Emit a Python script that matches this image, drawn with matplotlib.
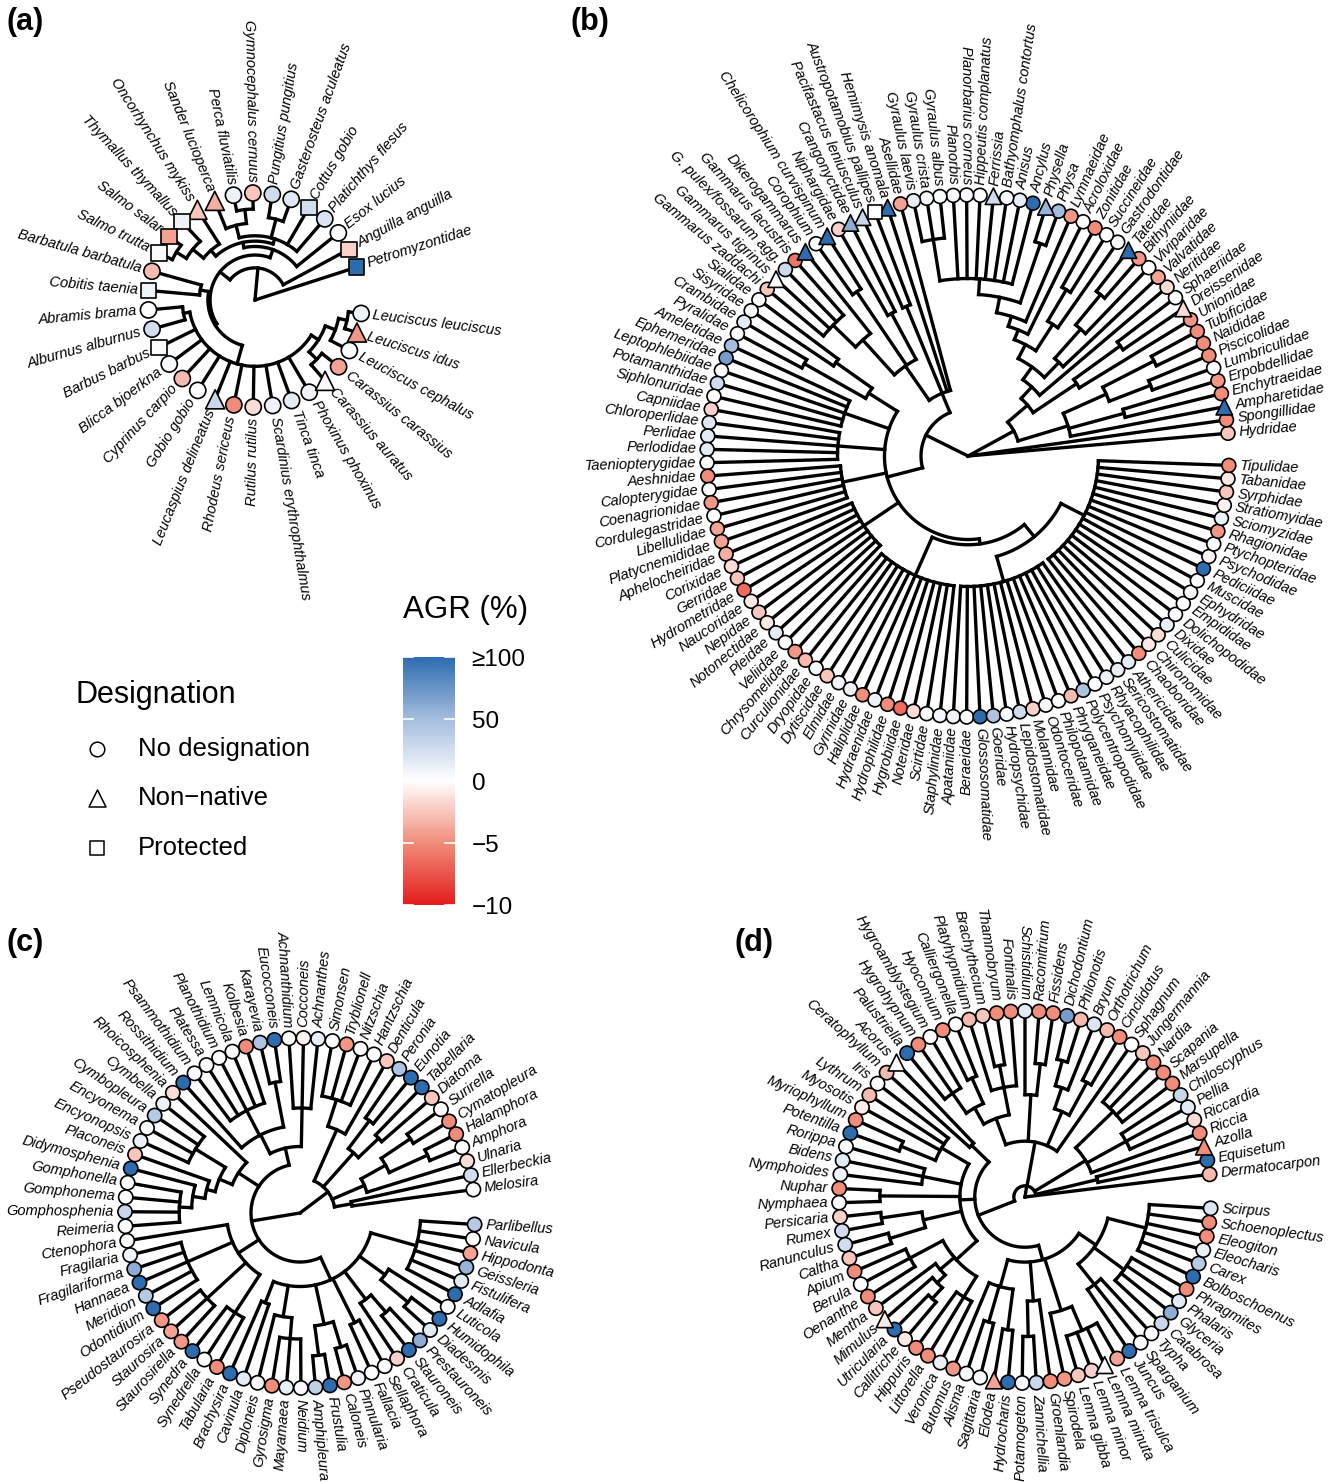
import re
import numpy as np
import matplotlib
matplotlib.use("Agg")
import matplotlib.pyplot as plt
from matplotlib.collections import LineCollection
from matplotlib.colors import LinearSegmentedColormap, TwoSlopeNorm
from matplotlib.cm import ScalarMappable

plt.rcParams['font.family'] = ['Liberation Sans', 'DejaVu Sans']

W, H = 1343, 1482

# ---------------- (a) fish ----------------
tips_a = ["Petromyzontidae", "Anguilla anguilla", "Esox lucius", "Platichthys flesus",
          "Cottus gobio", "Gasterosteus aculeatus", "Pungitius pungitius",
          "Gymnocephalus cernuus", "Perca fluviatilis", "Sander lucioperca",
          "Oncorhynchus mykiss", "Thymallus thymallus", "Salmo salar", "Salmo trutta",
          "Barbatula barbatula", "Cobitis taenia", "Abramis brama", "Alburnus alburnus",
          "Barbus barbus", "Blicca bjoerkna", "Cyprinus carpio", "Gobio gobio",
          "Leucaspius delineatus", "Rhodeus sericeus", "Rutilus rutilus",
          "Scardinius erythrophthalmus", "Tinca tinca", "Phoxinus phoxinus",
          "Carassius auratus", "Carassius carassius", "Leuciscus cephalus",
          "Leuciscus idus", "Leuciscus leuciscus"]
agr_a = [100, -2, 2, 20, 25, 18, 25, -2.5, 10, -3.5,
         -2.5, 10, -4, 3, -3, 8, 0, 25, 2, 5,
         -3, 1, 30, -5, -1.5, 8, 15, 8, 4, -4,
         0, -4.5, 10]
nonnative_a = ["Sander lucioperca", "Oncorhynchus mykiss", "Leucaspius delineatus",
               "Carassius auratus", "Leuciscus idus"]
protected_a = ["Petromyzontidae", "Anguilla anguilla", "Cottus gobio", "Thymallus thymallus",
               "Salmo salar", "Salmo trutta", "Cobitis taenia", "Barbus barbus"]
# leaf = index into tips, number after ")" = node radius (0 centre .. 1 tips)
acanth_a = "(3,4,(5,6)0.78,((7,8)0.85,9)0.72)0.6"
salmo_a = "(10,(11,(12,13)0.86)0.75)0.62"
cyp_a = "((16,17)0.68,18,19,20,21,22,23,24,25,26,27,((28,29)0.8,(30,(31,32)0.88)0.8)0.7)0.62"
tree_a = ("(0,(1,((2,(" + acanth_a + "," + salmo_a + ")0.55)0.5,"
          "((14,15)0.52," + cyp_a + ")0.44)0.42)0.3)0")

# ---------------- (b) macroinvertebrates ----------------
tips_b = ["Hydridae", "Spongillidae", "Ampharetidae", "Enchytraeidae", "Erpobdellidae",
          "Lumbriculidae", "Piscicolidae", "Naididae", "Tubificidae", "Unionidae",
          "Dreissenidae", "Sphaeriidae", "Neritidae", "Valvatidae", "Viviparidae",
          "Bithyniidae", "Tateidae", "Gastrodontidae", "Succineidae", "Zonitidae",
          "Acroloxidae", "Lymnaeidae", "Physa", "Physella", "Ancylus",
          "Anisus", "Bathyomphalus contortus", "Ferrissia", "Hippeutis complanatus", "Planorbarius corneus",
          "Planorbis", "Gyraulus albus", "Gyraulus crista", "Gyraulus laevis", "Asellidae",
          "Hemimysis anomala", "Austropotamobius pallipes", "Pacifastacus leniusculus", "Crangonyctidae", "Niphargidae",
          "Chelicorophium curvispinum", "Corophium", "Dikerogammarus", "Gammarus lacustris", "G. pulex/fossarum agg.",
          "Gammarus tigrinus", "Gammarus zaddachi", "Sialidae", "Sisyridae", "Crambidae",
          "Pyralidae", "Ameletidae", "Ephemeridae", "Leptophlebiidae", "Potamanthidae",
          "Siphlonuridae", "Capniidae", "Chloroperlidae", "Perlidae", "Perlodidae",
          "Taeniopterygidae", "Aeshnidae", "Calopterygidae", "Coenagrionidae", "Cordulegastridae",
          "Libellulidae", "Platycnemididae", "Aphelocheiridae", "Corixidae", "Gerridae",
          "Hydrometridae", "Naucoridae", "Nepidae", "Notonectidae", "Pleidae",
          "Veliidae", "Chrysomelidae", "Curculionidae", "Dryopidae", "Dytiscidae",
          "Elmidae", "Gyrinidae", "Haliplidae", "Hydraenidae", "Hydrophilidae",
          "Hygrobiidae", "Noteridae", "Scirtidae", "Staphylinidae", "Apataniidae",
          "Beraeidae", "Glossosomatidae", "Goeridae", "Hydropsychidae", "Lepidostomatidae",
          "Molannidae", "Odontoceridae", "Philopotamidae", "Phryganeidae", "Polycentropodidae",
          "Psychomyiidae", "Rhyacophilidae", "Sericostomatidae", "Athericidae", "Chaoboridae",
          "Chironomidae", "Culicidae", "Dixidae", "Dolichopodidae", "Empididae",
          "Ephydridae", "Muscidae", "Pediciidae", "Psychodidae", "Ptychopteridae",
          "Rhagionidae", "Sciomyzidae", "Stratiomyidae", "Syrphidae", "Tabanidae",
          "Tipulidae"]
agr_b = [-2.5, -5, 100, -5, -4.5,
         0, -5, -5, -5, -4.5,
         -1.5, 0, -1.5, -4, 0,
         -4.5, 100, 3, 1, -5,
         1, -4.5, 50, 55, 100,
         12, 3, 25, 2, 6,
         6, 3, 2, 12, -4,
         100, 0, 30, 60, -2,
         100, 0, 100, -6, 28,
         2, -2.5, 1, 2, 15,
         2, 50, 70, 2, 25,
         2, -2, 18, 15, 15,
         3, -5, 3, -4.5, 1,
         -4, -4, -3.5, -1.5, -2.5,
         -6.5, -1, -2.5, -1, 15,
         1, -4.5, -3, 4, -2.5,
         8, 10, -5, 10, -5,
         -6.5, -1.5, 2, 6, 8,
         1, 100, 45, 2, 25,
         -2, 5, 3, -3, 45,
         2, 10, 12, 15, -5,
         -1, -1.5, 12, 1, 1,
         5, 2, 100, -0.5, 1,
         -4.5, 10, -0.5, -2.5, -1,
         -5]
nonnative_b = ["Ampharetidae", "Dreissenidae", "Tateidae", "Physella", "Ferrissia",
               "Hemimysis anomala", "Pacifastacus leniusculus", "Crangonyctidae",
               "Chelicorophium curvispinum", "Dikerogammarus", "Gammarus tigrinus"]
protected_b = ["Austropotamobius pallipes"]
annel_b = "(2,(3,4)0.62,((5,6)0.75,(7,8)0.8)0.58)0.4"
plan_b = "(24,25,26,27,28,29,30,(31,32,33)0.84)0.68"
gastro_b = ("(12,((13,(14,(15,16)0.8)0.65)0.5,((17,(18,19)0.74)0.6,"
            "(20,(21,((22,23)0.86," + plan_b + ")0.62)0.56)0.52)0.48)0.42)0.36")
moll_b = "((9,(10,11)0.72)0.5," + gastro_b + ")0.3"
crus_b = "(34,35,(36,37)0.62,((38,39)0.62,(40,41)0.76,(42,(43,44,45,46)0.72)0.6)0.42)0.26"
col_b = "(76,77,78,79,80,81,82,83,84,85,86,87,88)0.5"
tri_b = "(89,90,91,92,93,94,95,96,97,98,99,100,101,102)0.5"
dip_b = "(103,104,105,106,107,108,109,110,111,112,113,114,115,116,117,118,119,120)0.5"
ins_b = ("(((47,48)0.62,(49,50)0.72)0.45,(51,52,53,54,55)0.5,(56,57,58,59,60)0.5,"
         "(61,62,63,64,65,66)0.49,(67,68,69,70,71,72,73,74,75)0.48,"
         "(" + col_b + ",(" + tri_b + "," + dip_b + ")0.4)0.34)0.32")
tree_b = ("(0,1,(" + annel_b + "," + moll_b + ")0.2,(" + crus_b + "," + ins_b +
          ")0.18)0")

# ---------------- (c) diatoms ----------------
tips_c = ["Melosira", "Ellerbeckia", "Ulnaria", "Amphora", "Halamphora",
          "Cymatopleura", "Surirella", "Diatoma", "Tabellaria", "Eunotia",
          "Peronia", "Denticula", "Hantzschia", "Nitzschia", "Tryblionell",
          "Simonsen", "Achnanthes", "Cocconeis", "Achnanthidium", "Eucocconeis",
          "Karayevia", "Kolbesia", "Lemnicola", "Planothidium", "Platessa",
          "Psammothidium", "Rossithidium", "Rhoicosphenia", "Cymbella", "Cymbopleura",
          "Encyonema", "Encyonopsis", "Placoneis", "Didymosphenia", "Gomphonella",
          "Gomphonema", "Gomphosphenia", "Reimeria", "Ctenophora", "Fragilaria",
          "Fragilariforma", "Hannaea", "Meridion", "Odontidium", "Pseudostaurosira",
          "Staurosira", "Staurosirella", "Synedra", "Synedrella", "Tabularia",
          "Brachysira", "Cavinula", "Diploneis", "Gyrosigma", "Mayamaea",
          "Neidium", "Amphipleura", "Frustulia", "Caloneis", "Pinnularia",
          "Fallacia", "Sellaphora", "Craticula", "Stauroneis", "Prestauroneis",
          "Diadesmis", "Humidophila", "Luticola", "Adlafia", "Fistulifera",
          "Geissleria", "Hippodonta", "Navicula", "Parlibellus"]
agr_c = [0, 25, -1.5, 0, -5,
         -5, 1, -2.5, 100, 100,
         45, -2.5, 1, 1, -4.5,
         2, 12, -0.5, 0, 100,
         45, -5, 6, 1, 0,
         4, 100, -1.5, 10, 40,
         1, 10, -2.5, 100, 2,
         2, 30, 2, 1, 8,
         60, 100, 40, 100, -4.5,
         -4, -4.5, 100, 1, -5,
         100, 15, 6, -5, 12,
         4, 35, 100, -4.5, 8,
         2, 2, -2, 100, 60,
         15, 100, 2, 100, 15,
         55, -4, 1, 40]
nonnative_c = []
protected_c = []
ra_c = "((0,1)0.3,(2,((3,4)0.8,(5,6)0.76)0.56)0.4,((7,8)0.62,(9,10)0.66)0.46,(11,(12,13,14,15)0.68)0.52)0.2"
ach_c = "((16,17,18)0.6,((19,20)0.76,(21,22,23,24,25)0.66,26)0.5)0.38"
cym_c = "(27,((28,29,30,31)0.7,(32,(33,(34,35,36,37)0.69)0.62)0.55)0.5)0.42"
frag_c = "(38,(39,40,41,42,43)0.7,(44,45,46)0.72,(47,48,49)0.68)0.42"
nav_c = ("((50,51)0.55,(52,(53,54,55)0.72)0.6,((56,57)0.82,(58,59)0.8)0.65,(60,61)0.7,"
         "(62,(63,64)0.75)0.62,((65,66)0.8,67)0.6,(68,69,70,71,72,73)0.69)0.42")
tree_c = "(" + ra_c + ",(" + ach_c + "," + cym_c + "," + frag_c + "," + nav_c + ")0.28)0"

# ---------------- (d) macrophytes ----------------
tips_d = ["Dermatocarpon", "Equisetum", "Azolla", "Riccia", "Riccardia",
          "Pellia", "Chiloscyphus", "Marsupella", "Scapania", "Nardia",
          "Jungermannia", "Sphagnum", "Cinclidotus", "Orthotrichum", "Bryum",
          "Philonotis", "Dichodontium", "Fissidens", "Racomitrium", "Schistidium",
          "Fontinalis", "Thamnobryum", "Brachythecium", "Platyhypnidium", "Calliergonella",
          "Hyocomium", "Hygroamblystegium", "Hygrohypnum", "Palustriella", "Acorus",
          "Ceratophyllum", "Iris", "Lythrum", "Myosotis", "Myriophyllum",
          "Potentilla", "Rorippa", "Bidens", "Nymphoides", "Nuphar",
          "Nymphaea", "Persicaria", "Rumex", "Ranunculus", "Caltha",
          "Apium", "Berula", "Oenanthe", "Mentha", "Mimulus",
          "Utricularia", "Callitriche", "Hippuris", "Littorella", "Veronica",
          "Butomus", "Alisma", "Sagittaria", "Elodea", "Hydrocharis",
          "Potamogeton", "Zannichellia", "Groenlandia", "Spirodela", "Lemna gibba",
          "Lemna minor", "Lemna minuta", "Lemna trisulca", "Juncus", "Sparganium",
          "Typha", "Catabrosa", "Glyceria", "Phalaris", "Phragmites",
          "Bolboschoenus", "Carex", "Eleocharis", "Eleogiton", "Schoenoplectus",
          "Scirpus"]
agr_d = [-3, 100, -5, -5, -1.5,
         15, 30, -5, -5, -5,
         -2.5, 1, -5, -3, 20,
         -3, 70, -5, -5, 15,
         -5, -5, -2.5, -3, 1,
         -5, 1, -5, 100, 1,
         -3, 2, -3, -0.8, -5,
         100, 2, 15, 10, -5,
         5, -2, 25, 25, -2.5,
         -5, 2, -5, -2.5, -1,
         100, -1, -5, -5, 12,
         -4.5, 5, 1, -4, 100,
         2, 30, -5, -4.5, -2.5,
         -2, 2, -4, 100, 1,
         1, 30, 60, 15, -5,
         100, 40, 12, -5, -5,
         20]
nonnative_d = ["Azolla", "Acorus", "Mimulus", "Elodea", "Lemna minuta"]
protected_d = []
liv_d = "(3,(4,5,6)0.62,(7,8,9,10)0.66)0.38"
moss_d = ("(11,((12,13)0.7,(14,(15,16)0.76)0.62)0.5,((17,18)0.72,19)0.55,"
          "((20,(21,22)0.72,23)0.6,((24,25)0.7,(26,27,28)0.68)0.55)0.45)0.3")
eud_d = ("((31,32,33,(34,35)0.72)0.52,(36,37,38)0.56,(39,40)0.78,((41,42)0.78,(43,44)0.76)0.56,"
         "((45,46,47)0.7,(48,(49,(50,51)0.74)0.66)0.6,(52,53,54)0.63)0.5)0.35")
mono_d = ("((55,(56,57)0.7,(58,59)0.72)0.5,((60,61)0.75,62)0.56,(63,(64,65,66,67)0.78)0.64,"
          "((68,69,70)0.6,(71,72,73,74)0.66,(75,76,77,78,79,80)0.67)0.46)0.35")
tree_d = "(0,((1,2)0.4," + liv_d + "," + moss_d + ",((29,30)0.4," + eud_d + "," + mono_d + ")0.27)0.06)0"

cmap = LinearSegmentedColormap.from_list(
    "agr", ["#E31D1C", "#F18C7A", "#FFFFFF", "#A5BDDE", "#2E6CB0"])
norm = TwoSlopeNorm(vmin=-10, vcenter=0, vmax=100)


def parse_tree(s):
    s = s.replace(" ", "")
    pos = 0

    def node():
        nonlocal pos
        if s[pos] == "(":
            pos += 1
            kids = [node()]
            while s[pos] == ",":
                pos += 1
                kids.append(node())
            pos += 1
            m = re.match(r"[0-9.]+", s[pos:])
            pos += m.end()
            return (float(m.group()), kids)
        m = re.match(r"\d+", s[pos:])
        pos += m.end()
        return int(m.group())

    return node()


def draw_panel(ax, tree_str, tips, agr, nonnative, protected, cx, cy, R, start, ms, fs=10.5):
    step = 360.0 / (len(tips) + 1.4)
    tip_ang = [start + i * step for i in range(len(tips))]

    def pt(r, a):
        t = np.radians(a)
        return cx + r * np.cos(t), cy - r * np.sin(t)

    segs = []

    def walk(nd):
        if isinstance(nd, int):
            return tip_ang[nd], R
        f, kids = nd
        r = f * R
        res = [walk(k) for k in kids]
        angs = [a for a, _ in res]
        for a, rc in res:
            segs.append([pt(r, a), pt(rc, a)])
        lo, hi = min(angs), max(angs)
        tt = np.linspace(lo, hi, int((hi - lo) / 0.5) + 2)
        segs.append([pt(r, a) for a in tt])
        return float(np.mean(angs)), r

    walk(parse_tree(tree_str))
    ax.add_collection(LineCollection(segs, colors="black", linewidths=2.4,
                                     capstyle="projecting", joinstyle="miter", zorder=2))

    pts = [pt(R, a) for a in tip_ang]
    kinds = ["p" if t in protected else "i" if t in nonnative else "n" for t in tips]
    for k, mk, sc in [("n", "o", 1.0), ("i", "^", 1.4), ("p", "s", 0.9)]:
        idx = [i for i, kk in enumerate(kinds) if kk == k]
        if not idx:
            continue
        ax.scatter([pts[i][0] for i in idx], [pts[i][1] for i in idx],
                   c=[agr[i] for i in idx], cmap=cmap, norm=norm, marker=mk,
                   s=ms * sc, edgecolors="black", linewidths=1.2, zorder=3)

    for name, a in zip(tips, tip_ang):
        x, y = pt(R + 11, a)
        an = a % 360
        if 90 < an < 270:
            rot, ha = an - 180, "right"
        else:
            rot, ha = an, "left"
        ax.text(x, y, name, rotation=rot, rotation_mode="anchor", ha=ha, va="center",
                fontsize=fs, style="italic")


fig = plt.figure(figsize=(W / 100, H / 100), dpi=100)
ax = fig.add_axes([0, 0, 1, 1])
ax.set_xlim(0, W)
ax.set_ylim(H, 0)
ax.axis("off")

draw_panel(ax, tree_a, tips_a, agr_a, nonnative_a, protected_a, 255, 300, 107, 17.9, 135)
draw_panel(ax, tree_b, tips_b, agr_b, nonnative_b, protected_b, 968, 456, 261, 5.0, 100)
draw_panel(ax, tree_c, tips_c, agr_c, nonnative_c, protected_c, 300, 1213, 175, 7.7, 105)
draw_panel(ax, tree_d, tips_d, agr_d, nonnative_d, protected_d, 1025, 1197, 186, 7.0, 105)

for lab, x, y in [("(a)", 6, 22), ("(b)", 570, 22), ("(c)", 6, 943), ("(d)", 735, 943)]:
    ax.text(x, y, lab, fontsize=22, fontweight="bold", va="center", ha="left")

# designation legend
ax.text(75, 695, "Designation", fontsize=22, va="center", ha="left")
for (lab, mk, s), y in zip([("No designation", "o", 110), ("Non\u2212native", "^", 150),
                            ("Protected", "s", 95)], [749, 798, 848]):
    ax.scatter([97], [y], marker=mk, s=s, facecolors="white", edgecolors="black",
               linewidths=1.1)
    ax.text(138, y, lab, fontsize=18.5, va="center", ha="left")

# AGR colour bar
ax.text(403, 610, "AGR (%)", fontsize=22.5, va="center", ha="left")
cbar_ticks = [-10, -5, 0, 50, 100]
cax = fig.add_axes([403 / W, 1 - 905 / H, 52 / W, 248 / H])
cb = fig.colorbar(ScalarMappable(norm=norm, cmap=cmap), cax=cax, ticks=cbar_ticks)
cb.set_ticklabels(["\u221210", "\u22125", "0", "50", "\u2265100"])
cb.outline.set_visible(False)
cax.tick_params(length=0, labelsize=17.5, pad=12)
for t in cbar_ticks:
    cax.axhline(t, 0, 0.2, color="white", lw=1.2)
    cax.axhline(t, 0.8, 1, color="white", lw=1.2)

fig.savefig("out.png", dpi=100)
